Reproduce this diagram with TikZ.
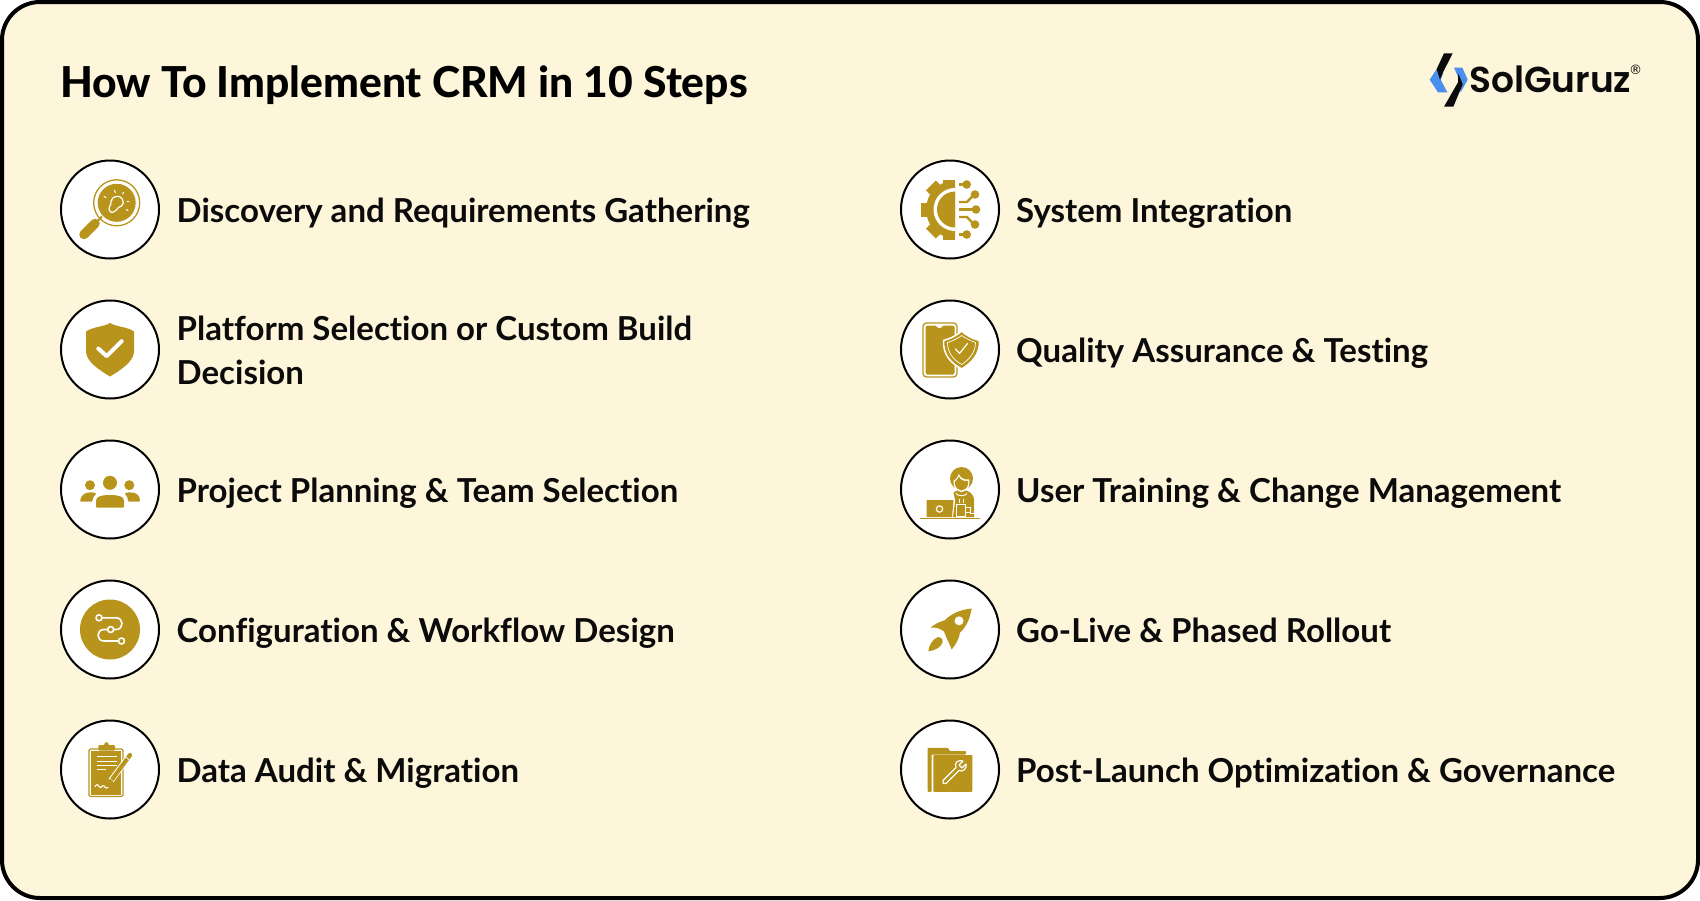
\documentclass[tikz,border=0pt]{standalone}
\usepackage{fontspec}
\setmainfont{Lato}
\newfontfamily\bodyfont[RawFeature=-liga]{Lato Bold}
\newfontfamily\titlefont[RawFeature=-liga]{Lato Heavy}
\newfontfamily\logofont{Poppins SemiBold}
\newfontfamily\regfont{DejaVu Sans}
\definecolor{gold}{HTML}{B8941C}
\definecolor{cream}{HTML}{FEF6DA}
\definecolor{logoblue}{HTML}{4A8FEF}
\definecolor{ink}{HTML}{0B0B0B}
\tikzset{
  ring/.style={circle,draw=black,line width=2pt,fill=white,minimum size=98pt,inner sep=0pt},
  label/.style={anchor=base west,inner sep=0pt,text=ink,font=\bodyfont\fontsize{33}{44.5}\selectfont},
  au/.style={fill=gold,draw=none},
  wl/.style={draw=white,line width=1.6pt,line cap=round,line join=round},
  gl/.style={draw=gold,line cap=round,line join=round}
}
\begin{document}
\begin{tikzpicture}[x=1pt,y=-1pt]
\useasboundingbox (0,0) rectangle (1700,900);
\fill[white] (0,0) rectangle (1700,900);
\draw[line width=4pt,fill=cream,rounded corners=38pt,draw=black] (2,2) rectangle (1698,898);
\node[anchor=base west,inner sep=0pt,text=black,font=\titlefont\fontsize{42.6}{50}\selectfont] (title) at (60,97) {How To Implement CRM in 10 Steps};

% logo
\begin{scope}[shift={(1420,45)},x=0.3333pt,y=-0.3333pt]
 \fill[logoblue] (54,66) -- (29,104) -- (54,142) -- (82,142) -- (62,104) -- (70,84) -- cycle;
 \fill[logoblue] (102,68) -- (127,68) -- (143,104) -- (122,142) -- (116,100) -- cycle;
 \fill[ink] (72,25) -- (98,25) -- (68,84) -- (60,104) -- (50,72) -- cycle;
 \fill[ink] (72,185) -- (100,185) -- (128,118) -- (115,85) -- (114,112) -- cycle;
\end{scope}
\node[anchor=base west,inner sep=0pt,text=ink,font=\logofont\fontsize{36}{40}\selectfont] (logo) at (1469,92) {SolGuruz};
\node[inner sep=0pt,text=ink,font=\regfont\fontsize{13}{14}\selectfont] (reg) at (1635.5,70) {®};

% rings
\node[ring] (c1) at (110,209.5) {};
\node[ring] (c2) at (110,349.5) {};
\node[ring] (c3) at (110,489.5) {};
\node[ring] (c4) at (110,629.5) {};
\node[ring] (c5) at (110,769.5) {};
\node[ring] (c6) at (950,209.5) {};
\node[ring] (c7) at (950,349.5) {};
\node[ring] (c8) at (950,489.5) {};
\node[ring] (c9) at (950,629.5) {};
\node[ring] (c10) at (950,769.5) {};

% labels
\node[label] (t1) at (176.5,222) {Discovery and Requirements Gathering};
\node[label,align=left] (t2) at (176.5,384.5) {Platform Selection or Custom Build\\Decision};
\node[label] (t3) at (176.5,502) {Project Planning \& Team Selection};
\node[label] (t4) at (176.5,642) {Configuration \& Workflow Design};
\node[label] (t5) at (176.5,782) {Data Audit \& Migration};
\node[label] (t6) at (1016,222) {System Integration};
\node[label] (t7) at (1016,362) {Quality Assurance \& Testing};
\node[label] (t8) at (1016,502) {User Training \& Change Management};
\node[label] (t9) at (1016,642) {Go-Live \& Phased Rollout};
\node[label] (t10) at (1016,782) {Post-Launch Optimization \& Governance};

% icon 1 magnifier
\begin{scope}[shift={(c1.center)}]
 \draw[gold,line width=1.3pt] (6.7,-6.7) circle (23);
 \fill[gold] (6.7,-6.7) circle (19);
 \draw[gold,line width=2pt] (-13,12) -- (-8,7);
 \draw[gold,line width=9.5pt,line cap=round] (-26,25) -- (-15,14);
 \draw[wl,line width=1.2pt] (1.5,3) .. controls (-1,1) and (-2,-1) .. (-0.5,-3) .. controls (1,-4) and (1,-6) .. (1,-8) .. controls (1.5,-13) and (9,-16) .. (12.5,-10) .. controls (15,-5) and (11,-3) .. (8.5,-2) .. controls (7,0) and (4,3) .. (1.5,3);
 \foreach \a/\b/\c/\d in {4.5/-19/5.5/-17, 13.5/-17/12.5/-15.5, -6/-13/-4/-12, 19/-8/17/-8, 18/1/16.5/0,1/-9/2/-9} {\draw[wl,line width=1pt] (\a,\b) -- (\c,\d);}
\end{scope}

% icon 2 shield
\begin{scope}[shift={(c2.center)}]
 \fill[gold] (0,-26.7) .. controls (-4,-23) and (-17,-23) .. (-24,-18) -- (-24,2) .. controls (-24,12) and (-10,21) .. (0,27) .. controls (10,21) and (24,12) .. (24,2) -- (24,-18) .. controls (17,-23) and (4,-23) .. (0,-26.7) -- cycle;
 \draw[wl,line width=4pt] (-11.7,-1) -- (-3.3,6.7) -- (11.7,-8.3);
\end{scope}

% icon 3 team
\begin{scope}[shift={(c3.center)}]
 \fill[gold] (0,-6.7) circle (7);
 \fill[gold] (-20,-4.3) circle (5);
 \fill[gold] (19.3,-4.3) circle (5);
 \fill[gold,rounded corners=1pt] (-14,18) -- (-14,12) .. controls (-14,7) and (-8,5.5) .. (0,5.5) .. controls (8,5.5) and (14,7) .. (14,12) -- (14,18) -- cycle;
 \fill[gold,rounded corners=1pt] (-30,12) .. controls (-29,5) and (-24,2.5) .. (-18,3) .. controls (-16,3) and (-14.5,3.5) .. (-13.5,4.5) .. controls (-16,6) and (-17.5,9) .. (-17.5,12) -- cycle;
 \fill[gold,rounded corners=1pt] (30,12) .. controls (30,5) and (25,2.5) .. (19,3) .. controls (17,3) and (15.5,3.5) .. (14.5,4.5) .. controls (17,6) and (18,9) .. (18,12) -- cycle;
\end{scope}

% icon 4 workflow
\begin{scope}[shift={(c4.center)}]
 \fill[gold] (0,0) circle (30);
 \draw[wl] (-8,-11.7) -- (6,-11.7) .. controls (14,-11.7) and (14,0) .. (6,0) -- (4,0);
 \draw[wl] (-2.5,0) -- (-6,0) .. controls (-14,0) and (-14,11.5) .. (-6,11.5) -- (8,11.5);
 \draw[wl] (-11,-11.7) circle (3);
 \draw[wl] (0.7,0) circle (3);
 \draw[wl] (11.5,11.5) circle (3);
\end{scope}

% icon 5 clipboard
\begin{scope}[shift={(c5.center)}]
 \draw[gold,line width=1.1pt,rounded corners=1.5pt] (-21,-20.5) rectangle (13,27);
 \fill[gold] (-19,-18.5) rectangle (11,25);
 \fill[gold,rounded corners=1pt] (-11.7,-24.5) rectangle (5,-19);
 \fill[gold] (-3.5,-25) circle (2.3);
 \foreach \yy/\xx in {-12.7/6.7,-8.3/6.7,-4/6.7,0.3/-4}{\draw[white,line width=1.2pt] (-13.3,\yy) -- (\xx,\yy);}
 \draw[white,line width=1.1pt,line cap=round] (-15,17) .. controls (-13,14) and (-11.5,15) .. (-10.5,17.5) .. controls (-9,19.5) and (-8,15) .. (-6,16.5) .. controls (-5,19) and (-3,19) .. (-2,18);
 \draw[white,line width=6pt] (19,-13) -- (1,11);
 \draw[gold,line width=4.2pt] (19,-13) -- (2,10);
 \draw[gold,line width=4.2pt,line cap=round] (20,-14.5) -- (19,-13);
 \draw[white,line width=.7pt] (15,-13) -- (19,-10);
 \fill[gold] (0,14) -- (-0.5,9) -- (3.5,11.5) -- cycle;
\end{scope}

% icon 6 gear and circuit
\begin{scope}[shift={(c6.center)}]
 \begin{scope}
  \clip (-40,-40) rectangle (5,40);
  \fill[gold] (5,0) circle (29);
  \foreach \ang in {135,180,225}{
    \fill[gold,shift={(5,0)},rotate=\ang] (24,-7) rectangle (34,7);}
  \fill[gold] (-7,-30) rectangle (5,30);
  \fill[white] (5,0) circle (21.5);
  \fill[gold] (5,0) circle (18);
 \end{scope}
 \draw[gold,line width=2.4pt] (9,0) -- (24,0);
 \fill[gold] (26,0) circle (4.3);
 \draw[gold,line width=2.4pt] (9,-25) -- (15,-25);
 \fill[gold] (16.7,-25) circle (4.3);
 \draw[gold,line width=2.4pt] (9,25) -- (15,25);
 \fill[gold] (16.7,25) circle (4.3);
 \draw[gold,line width=2.4pt] (9,-7.5) -- (17,-7.5) -- (24,-15);
 \fill[gold] (25,-15) circle (4.3);
 \draw[gold,line width=2.4pt] (9,7.5) -- (17,7.5) -- (24,15);
 \fill[gold] (25,15) circle (4.3);
\end{scope}

% icon 7 phone and shield
\begin{scope}[shift={(c7.center)}]
 \draw[gold,line width=1.3pt,rounded corners=3.5pt] (-27,-26.5) rectangle (7,27.5);
 \fill[gold,rounded corners=1.5pt] (-24.5,-24) -- (-13.5,-24) .. controls (-12.5,-21) and (-8.5,-21) .. (-7.5,-24) -- (4.5,-24) -- (4.5,25) -- (-24.5,25) -- cycle;
 \path[fill=gold,draw=white,line width=1.5pt,line join=round] (11.7,-18.5) .. controls (8,-15) and (1,-11) .. (-6.5,-9) .. controls (-7,5) and (0,13) .. (11.7,19.5) .. controls (22,13) and (30,5) .. (29.5,-9) .. controls (22,-11) and (15,-15) .. (11.7,-18.5) -- cycle;
 \path[draw=white,line width=.7pt,line join=round] (11.7,-14) .. controls (8,-11.5) and (4,-9) .. (-2.5,-7) .. controls (-2.5,3) and (3,10) .. (11.7,15) .. controls (19,10) and (25.5,3) .. (25.5,-7) .. controls (20,-9) and (15,-11.5) .. (11.7,-14) -- cycle;
 \draw[wl,line width=1.2pt] (5.5,-0.5) -- (9.5,4) -- (17.5,-6);
\end{scope}

% icon 8 person with laptop
\begin{scope}[shift={(c8.center)}]
 \fill[gold] (-23.5,10.5) -- (3.5,10.5) -- (2,27.5) -- (-23.5,27.5) -- cycle;
 \draw[white,line width=1.1pt] (-10.5,19.5) circle (3.2);
 \fill[gold] (-30,28) rectangle (30,29.5);
 \fill[gold] (11.5,-11) circle (11.5);
 \fill[gold] (3.5,3) .. controls (6,1) and (9,0) .. (12,0) .. controls (18,1) and (23,3) .. (24,10) -- (24,27.5) -- (3,27.5) -- (5.3,10.5) -- (4.5,8) -- cycle;
 \fill[white] (3.7,-9) .. controls (3,-5) and (4,1) .. (11.5,2.5) .. controls (19,1) and (20,-5) .. (19.3,-10) .. controls (13,-9) and (9,-13) .. (9,-16) .. controls (8,-12) and (5,-9.5) .. (3.7,-9) -- cycle;
 \fill[gold] (5,-8) .. controls (4.5,-5) and (5.5,0) .. (11.5,1) .. controls (17.5,0) and (18.5,-5) .. (18,-8.5) .. controls (13,-8) and (10,-10) .. (9,-13) .. controls (8,-11) and (6.5,-9) .. (5,-8) -- cycle;
 \draw[white,line width=.9pt] (6,4) .. controls (8,7) and (15,7) .. (17,4);
 \draw[white,line width=.7pt] (9.5,9) -- (9.5,13) (13,9) -- (13,13);
 \draw[white,line width=1pt] (6.5,15) rectangle (15,27);
 \draw[white,line width=1pt] (15,18) -- (20,18) -- (20,23) -- (15,23);
 \draw[white,line width=1pt] (20,24) -- (24,24) -- (24,20);
\end{scope}

% icon 9 rocket
\begin{scope}[shift={(c9.center)}]
 \fill[gold] (21.7,-21) .. controls (10,-20) and (0,-15) .. (-5,-9.3) .. controls (-10,-8) and (-16,-5) .. (-19.3,-2) .. controls (-14,-2.5) and (-10,-1) .. (-6,2) .. controls (-4,8) and (-1,13) .. (1.7,20) .. controls (6,15) and (9,9) .. (10,3) .. controls (17,-3) and (20,-12) .. (21.7,-21) -- cycle;
 \fill[white] (9,-8.7) circle (4.5);
 \fill[gold] (-21.7,21.7) .. controls (-21,16) and (-18,10) .. (-11.7,7.3) .. controls (-9,7.3) and (-7,10) .. (-7.3,12) .. controls (-8,17) and (-14,21) .. (-21.7,21.7) -- cycle;
\end{scope}

% icon 10 folder and wrench
\begin{scope}[shift={(c10.center)}]
 \fill[gold,rounded corners=.8pt] (-22.3,-21.7) -- (-2,-21.7) -- (0,-18.3) -- (16,-18.3) -- (16,-15) -- (-18.5,-15) -- (-18.5,22.3) -- (-22.3,22.3) -- cycle;
 \fill[gold,rounded corners=.8pt] (-16.7,-14.5) -- (22.3,-14.5) -- (22.3,22.3) -- (-16.7,22.3) -- cycle;
 \draw[white,line width=1.2pt,line join=round] (-7,11) -- (6,-2) .. controls (4,-7) and (8,-10) .. (13,-8.5) -- (9,-4.5) -- (12,-1.5) -- (16,-5.5) .. controls (17,-1) and (13,3) .. (9,1) -- (-4,14) .. controls (-6,15.5) and (-8.5,13) .. (-7,11) -- cycle;
\end{scope}
\end{tikzpicture}
\end{document}
